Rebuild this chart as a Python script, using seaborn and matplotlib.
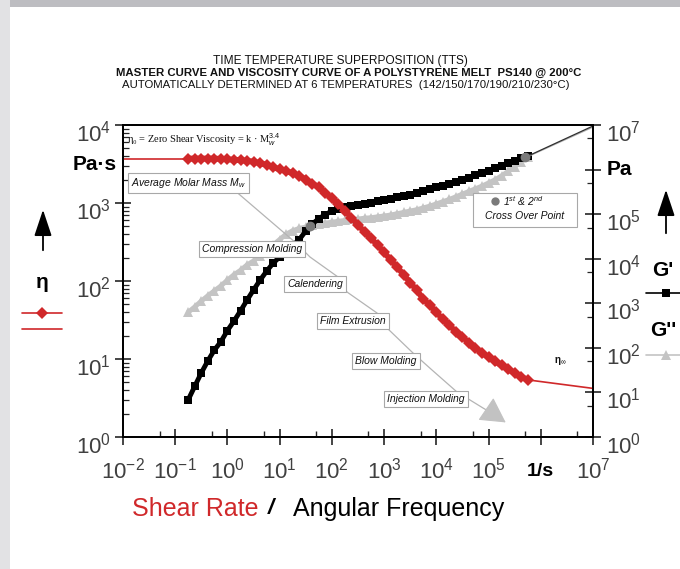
import matplotlib
matplotlib.use("Agg")
import matplotlib.pyplot as plt
import matplotlib.font_manager as fm
from matplotlib.ticker import LogLocator, NullFormatter
from matplotlib.patches import Rectangle, FancyArrowPatch
from matplotlib.lines import Line2D
from matplotlib.transforms import blended_transform_factory, ScaledTranslation
import pandas as pd
import seaborn as sns

# ---------------------------------------------------------------------------
# Master curve data, PS140 melt, reference temperature 200 °C
# ---------------------------------------------------------------------------
# shear rate / angular frequency (1/s)
omega = [0.178, 0.237, 0.316, 0.422, 0.562, 0.750, 1.00, 1.33, 1.78, 2.37,
         3.16, 4.22, 5.62, 7.50, 10.0, 13.3, 17.8, 23.7, 31.6, 42.2,
         56.2, 75.0, 100, 133, 178, 237, 316, 422, 562, 750,
         1.00e3, 1.33e3, 1.78e3, 2.37e3, 3.16e3, 4.22e3, 5.62e3, 7.50e3, 1.00e4, 1.33e4,
         1.78e4, 2.37e4, 3.16e4, 4.22e4, 5.62e4, 7.50e4, 1.00e5, 1.33e5, 1.78e5, 2.37e5,
         3.16e5, 4.22e5, 5.62e5]

# viscosity eta (Pa·s)
eta = [3715, 3715, 3715, 3715, 3715, 3673, 3631, 3589, 3548, 3467,
       3388, 3236, 3090, 2884, 2692, 2570, 2399, 2239, 1995, 1778,
       1585, 1349, 1148, 977, 794, 646, 525, 427, 355, 288,
       234, 186, 151, 120, 95.5, 75.9, 58.9, 49.0, 39.8, 32.4,
       26.9, 22.4, 19.1, 16.2, 13.8, 12.0, 10.5, 9.3, 8.3, 7.4,
       6.6, 5.9, 5.4]

# storage modulus G' (Pa)
g_storage = [6.9, 13.8, 27.5, 51.3, 89.1, 138, 245, 398, 676, 1175,
             1995, 3311, 5248, 7943, 10960, 14790, 19950, 26920, 41690, 60260,
             79430, 97720, 117500, 131800, 141300, 151400, 158500, 169800, 182000, 195000,
             208900, 223900, 239900, 257000, 275400, 302000, 331100, 363100, 398100, 436500,
             478600, 524800, 588800, 660700, 741300, 831800, 933300, 1.07e6, 1.23e6, 1.41e6,
             1.58e6, 1.78e6, 2.0e6]

# loss modulus G'' (Pa)
g_loss = [631, 832, 1122, 1479, 1905, 2455, 3311, 4365, 5495, 7244,
          8913, 11750, 15490, 20420, 26920, 35480, 42660, 47860, 51290, 56230,
          60260, 63100, 66070, 69180, 72440, 75860, 77620, 81280, 83180, 87100,
          91200, 95500, 102300, 109600, 117500, 125900, 138000, 151400, 169800, 190500,
          213800, 245500, 281800, 323600, 371500, 426600, 501200, 588800, 724400, 912000,
          1.17e6, 1.51e6, 1.95e6]

# zero-shear plateau and high-rate limit of the viscosity
eta_zero_rate = [0.01, 0.178]
eta_zero = [3715, 3715]
eta_inf_rate = [5.62e5, 1.0e7]
eta_inf = [5.4, 4.2]

# extrapolation of the moduli to the high-frequency end
ext_omega = [5.62e5, 1.0e7]
g_storage_ext = [2.0e6, 9.5e6]
g_loss_ext = [1.95e6, 9.0e6]

# 1st and 2nd cross-over points (G' = G'')
cross_omega = [38, 5.0e5]
cross_modulus = [5.5e4, 1.9e6]

# axis ticks
x_ticks = [1e-2, 1e-1, 1e0, 1e1, 1e2, 1e3, 1e4, 1e5, 1e6, 1e7]
x_labels = ["$10^{-2}$", "$10^{-1}$", "$10^{0}$", "$10^{1}$", "$10^{2}$",
            "$10^{3}$", "$10^{4}$", "$10^{5}$", "", "$10^{7}$"]
eta_ticks = [1e0, 1e1, 1e2, 1e3, 1e4]
eta_labels = ["$10^{0}$", "$10^{1}$", "$10^{2}$", "$10^{3}$", "$10^{4}$"]
g_ticks = [1e0, 1e1, 1e2, 1e3, 1e4, 1e5, 1e6, 1e7]
g_labels = ["$10^{0}$", "$10^{1}$", "$10^{2}$", "$10^{3}$", "$10^{4}$",
            "$10^{5}$", "", "$10^{7}$"]

process_labels = ["Compression Molding", "Calendering", "Film Extrusion",
                  "Blow Molding", "Injection Molding"]

# ---------------------------------------------------------------------------
sns.set_style("ticks")
installed = {f.name for f in fm.fontManager.ttflist}
NARROW = "Liberation Sans Narrow" if "Liberation Sans Narrow" in installed else "Liberation Sans"
plt.rcParams["font.family"] = ["Liberation Sans", "DejaVu Sans"]
plt.rcParams["mathtext.fontset"] = "custom"
plt.rcParams["mathtext.rm"] = NARROW
plt.rcParams["mathtext.it"] = NARROW + ":italic"
plt.rcParams["mathtext.bf"] = NARROW + ":bold"

RED = "#d0282a"
LIGHT = "#c4c4c4"
TICKCOL = "#404040"

W, H = 680, 569
fig = plt.figure(figsize=(W / 100, H / 100), dpi=100)
fig.patch.set_facecolor("white")


def P(x, y):
    """pixel position -> figure fraction"""
    return (x / W, 1 - y / H)


# page frame
fig.add_artist(Rectangle((0, 0), 10 / W, 1, transform=fig.transFigure,
                         facecolor="#e2e2e4", edgecolor="none", zorder=0))
fig.add_artist(Rectangle(P(10, 7), 1, 7 / H, transform=fig.transFigure,
                         facecolor="#bdbdc1", edgecolor="none", zorder=0))

ax = fig.add_axes([123 / W, 1 - 437 / H, 470 / W, 312 / H])
ax.set_xscale("log")
ax.set_yscale("log")
ax.set_xlim(1e-2, 1e7)
ax.set_ylim(1, 1e4)
ax2 = ax.twinx()
ax2.set_yscale("log")
ax2.set_ylim(1, 1e7)
ax.set_zorder(ax2.get_zorder() + 1)
ax.patch.set_visible(False)

df = pd.DataFrame({"omega": omega, "eta": eta,
                   "g_storage": g_storage, "g_loss": g_loss})

# moduli (right axis)
sns.lineplot(data=df, x="omega", y="g_loss", ax=ax2, color=LIGHT, marker="^",
             markersize=7.5, markeredgewidth=0, linewidth=3.5,
             estimator=None, sort=False, legend=False)
sns.lineplot(data=df, x="omega", y="g_storage", ax=ax2, color="black", marker="s",
             markersize=6.3, markeredgewidth=0, linewidth=3.5,
             estimator=None, sort=False, legend=False)
ax2.plot(ext_omega, g_loss_ext, color="#b0b0b0", lw=1.0)
ax2.plot(ext_omega, g_storage_ext, color="#303030", lw=0.9)
ax2.plot(cross_omega, cross_modulus, linestyle="none", marker="o",
         markersize=7, color="#7a7a7a", markeredgewidth=0)

# viscosity (left axis)
sns.lineplot(data=df, x="omega", y="eta", ax=ax, color=RED, marker="D",
             markersize=6.5, markeredgewidth=0, linewidth=4.2,
             estimator=None, sort=False, legend=False)
ax.plot(eta_zero_rate, eta_zero, color=RED, lw=1.2)
ax.plot(eta_inf_rate, eta_inf, color=RED, lw=1.2)

ax.set_xlabel("")
ax.set_ylabel("")
ax2.set_ylabel("")

# axes, ticks and labels
for a in (ax, ax2):
    for s in a.spines.values():
        s.set_linewidth(1.3)
        s.set_color("black")

ax.set_xticks(x_ticks, labels=x_labels)
ax.xaxis.set_minor_locator(LogLocator(base=10, subs=[5], numticks=30))
ax.xaxis.set_minor_formatter(NullFormatter())
ax.set_yticks(eta_ticks, labels=eta_labels)
ax.yaxis.set_minor_locator(LogLocator(base=10, subs=range(2, 10), numticks=30))
ax.yaxis.set_minor_formatter(NullFormatter())
ax2.set_yticks(g_ticks, labels=g_labels)
ax2.yaxis.set_minor_locator(LogLocator(base=10, subs=[5], numticks=30))
ax2.yaxis.set_minor_formatter(NullFormatter())

ax.tick_params(axis="x", which="major", direction="inout", length=11, width=1.2,
               pad=9, labelsize=16, labelcolor=TICKCOL, top=False)
ax.tick_params(axis="x", which="minor", direction="in", length=4, width=1, top=False)
ax.tick_params(axis="y", which="major", direction="inout", length=11, width=1.2,
               pad=3, labelsize=16, labelcolor=TICKCOL)
ax.tick_params(axis="y", which="minor", direction="in", length=4, width=0.9)
ax2.tick_params(axis="y", which="major", direction="inout", length=11, width=1.2,
                pad=4, labelsize=16, labelcolor=TICKCOL)
ax2.tick_params(axis="y", which="minor", direction="in", length=4, width=0.9)

# the decade labels sit slightly below their ticks
shift = ScaledTranslation(0, -6 / 100, fig.dpi_scale_trans)
for a in (ax, ax2):
    for t in a.yaxis.get_major_ticks():
        t.label1.set_transform(t.label1.get_transform() + shift)
        t.label2.set_transform(t.label2.get_transform() + shift)

# unit labels sitting in the tick-label rows
bx = blended_transform_factory(ax.transData, ax.transAxes)
ax.text(1e6, -0.11, "1/s", transform=bx, ha="center", va="center",
        fontsize=14, fontweight="bold", color="black")
by = blended_transform_factory(ax2.transAxes, ax2.transData)
ax2.text(1.03, 1e6, "Pa", transform=by, ha="left", va="center",
         fontsize=15, fontweight="bold", color="black")
fig.text(*P(117, 165), "Pa·s", ha="right", va="center", fontsize=15,
         fontweight="bold", color="black")

# titles
fig.text(*P(340, 61), "TIME TEMPERATURE SUPERPOSITION (TTS)", ha="center",
         va="center", fontsize=8.6, color="#111111")
fig.text(*P(349, 73),
         "MASTER CURVE AND VISCOSITY CURVE OF A POLYSTYRENE MELT  PS140 @ 200°C",
         ha="center", va="center", fontsize=8.2, fontweight="bold", color="#111111")
fig.text(*P(346, 85),
         "AUTOMATICALLY DETERMINED AT 6 TEMPERATURES  (142/150/170/190/210/230°C)",
         ha="center", va="center", fontsize=8.2, color="#111111")

# x-axis caption
cap_y = P(0, 509)[1]
fig.text(132 / W, cap_y, "Shear Rate", ha="left", va="center", fontsize=18, color=RED)
fig.text(271 / W, cap_y, "/", ha="center", va="center", fontsize=16,
         fontweight="bold", fontstyle="italic", color="black")
fig.text(293 / W, cap_y, "Angular Frequency", ha="left", va="center", fontsize=18,
         color="black")

# zero-shear viscosity relation
fig.text(*P(127, 140), r"η₀ = Zero Shear Viscosity = k · M$_w^{3.4}$",
         ha="left", va="center", fontsize=7.5, family="Liberation Serif",
         color="#111111")

# processing window guide
guide = [(233, 189), (296, 243), (310, 257), (338, 277), (347, 292), (377, 313),
         (387, 328), (413, 353), (432, 370), (457, 392), (483, 408), (500, 418)]
fig.add_artist(Line2D([p[0] / W for p in guide], [1 - p[1] / H for p in guide],
                      transform=fig.transFigure, color="#b4b4b4", lw=0.9, zorder=2))
fig.add_artist(FancyArrowPatch(P(486, 409), P(508, 424), transform=fig.transFigure,
                               arrowstyle="-|>,head_length=1.0,head_width=0.55",
                               mutation_scale=16, color="#c2c2c2", lw=0.8, zorder=2))

box = dict(boxstyle="square,pad=0.3", facecolor="white", edgecolor="#a8a8a8", lw=0.8)
fig.text(*P(131, 183), "Average Molar Mass M$_w$", ha="left", va="center",
         fontsize=7.5, fontstyle="italic", color="#111111", bbox=box, zorder=3)
process_pos = [(252, 249), (315, 284), (353, 321), (386, 361), (426, 399)]
for label, (px, py) in zip(process_labels, process_pos):
    fig.text(*P(px, py), label, ha="center", va="center", fontsize=7.5,
             fontstyle="italic", color="#111111", bbox=box, zorder=3)

# cross-over legend box
fig.add_artist(Rectangle(P(473, 227), 104 / W, 34 / H, transform=fig.transFigure,
                         facecolor="white", edgecolor="#a8a8a8", lw=0.8, zorder=3))
fig.add_artist(Line2D([495 / W], [1 - 201 / H], transform=fig.transFigure,
                      marker="o", markersize=6, color="#7a7a7a",
                      markeredgewidth=0, zorder=4))
fig.text(*P(503, 201), "1$^{st}$ & 2$^{nd}$", ha="left", va="center",
         fontsize=7.5, fontstyle="italic", color="#111111", zorder=4)
fig.text(*P(525, 216), "Cross Over Point", ha="center", va="center",
         fontsize=7.5, fontstyle="italic", color="#111111", zorder=4)
fig.text(*P(560, 361), r"η$_{\infty}$", ha="center", va="center",
         fontsize=7, fontweight="bold", color="#111111")

# left side key (viscosity)
fig.add_artist(FancyArrowPatch(P(43, 253), P(43, 207), transform=fig.transFigure,
                               arrowstyle="-|>,head_length=0.9,head_width=0.3",
                               mutation_scale=18, color="black", lw=1.3))
fig.text(*P(42, 282), "η", ha="center", va="center", fontsize=15,
         fontweight="bold", color="black")
fig.add_artist(Line2D([22 / W, 42 / W, 62 / W], [1 - 313 / H] * 3,
                      transform=fig.transFigure, color=RED, lw=1.2,
                      marker="D", markevery=[1], markersize=6, markeredgewidth=0))
fig.add_artist(Line2D([22 / W, 62 / W], [1 - 329 / H] * 2,
                      transform=fig.transFigure, color=RED, lw=1.2))

# right side key (moduli)
fig.add_artist(FancyArrowPatch(P(666, 236), P(666, 187), transform=fig.transFigure,
                               arrowstyle="-|>,head_length=0.9,head_width=0.3",
                               mutation_scale=18, color="black", lw=1.3))
fig.text(*P(652, 270), "G'", ha="left", va="center", fontsize=15,
         fontweight="bold", color="black")
fig.add_artist(Line2D([646 / W, 666 / W, 690 / W], [1 - 293 / H] * 3,
                      transform=fig.transFigure, color="black", lw=1.2,
                      marker="s", markevery=[1], markersize=6, markeredgewidth=0))
fig.text(*P(650, 331), "G''", ha="left", va="center", fontsize=15,
         fontweight="bold", color="black")
fig.add_artist(Line2D([646 / W, 666 / W, 690 / W], [1 - 355 / H] * 3,
                      transform=fig.transFigure, color=LIGHT, lw=1.2,
                      marker="^", markevery=[1], markersize=7, markeredgewidth=0))

fig.savefig("out.png", dpi=100)
